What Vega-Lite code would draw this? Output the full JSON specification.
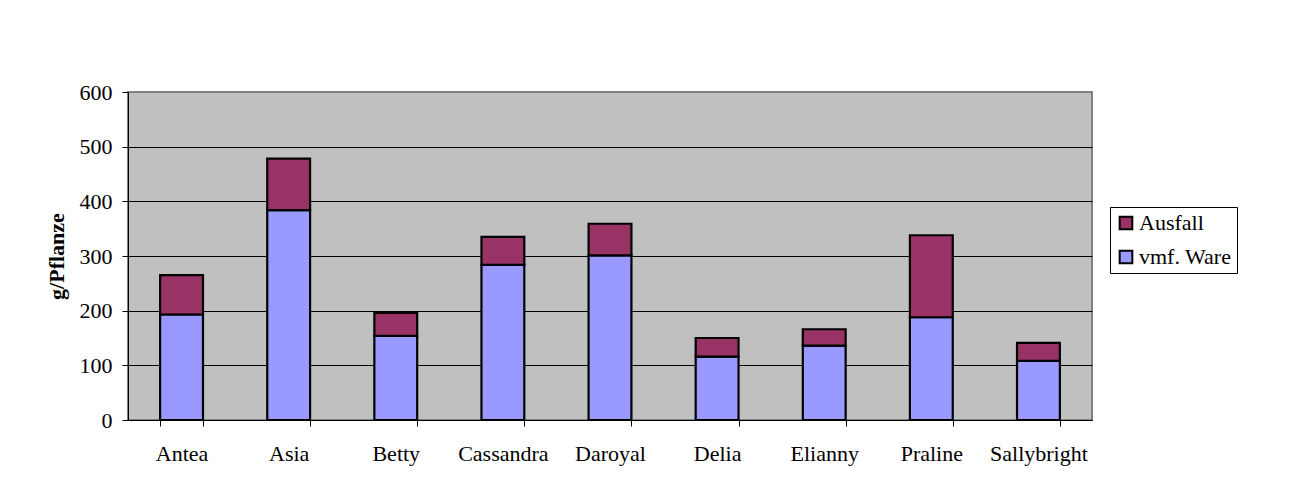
{
  "$schema": "https://vega.github.io/schema/vega-lite/v6.json",
  "width": 964,
  "height": 328,
  "autosize": {"type": "none"},
  "padding": {"left": 128, "top": 92, "right": 198, "bottom": 68},
  "background": "white",
  "data": {
    "values": [
      {"sorte": "Antea", "typ": "vmf. Ware", "stapel": 0, "wert": 193},
      {"sorte": "Antea", "typ": "Ausfall", "stapel": 1, "wert": 72},
      {"sorte": "Asia", "typ": "vmf. Ware", "stapel": 0, "wert": 384},
      {"sorte": "Asia", "typ": "Ausfall", "stapel": 1, "wert": 94},
      {"sorte": "Betty", "typ": "vmf. Ware", "stapel": 0, "wert": 154},
      {"sorte": "Betty", "typ": "Ausfall", "stapel": 1, "wert": 42},
      {"sorte": "Cassandra", "typ": "vmf. Ware", "stapel": 0, "wert": 284},
      {"sorte": "Cassandra", "typ": "Ausfall", "stapel": 1, "wert": 51},
      {"sorte": "Daroyal", "typ": "vmf. Ware", "stapel": 0, "wert": 301},
      {"sorte": "Daroyal", "typ": "Ausfall", "stapel": 1, "wert": 58},
      {"sorte": "Delia", "typ": "vmf. Ware", "stapel": 0, "wert": 116},
      {"sorte": "Delia", "typ": "Ausfall", "stapel": 1, "wert": 34},
      {"sorte": "Elianny", "typ": "vmf. Ware", "stapel": 0, "wert": 136},
      {"sorte": "Elianny", "typ": "Ausfall", "stapel": 1, "wert": 30},
      {"sorte": "Praline", "typ": "vmf. Ware", "stapel": 0, "wert": 188},
      {"sorte": "Praline", "typ": "Ausfall", "stapel": 1, "wert": 150},
      {"sorte": "Sallybright", "typ": "vmf. Ware", "stapel": 0, "wert": 108},
      {"sorte": "Sallybright", "typ": "Ausfall", "stapel": 1, "wert": 33}
    ]
  },
  "mark": {"type": "bar", "stroke": "black", "strokeWidth": 2.2},
  "encoding": {
    "x": {
      "field": "sorte",
      "type": "nominal",
      "sort": null,
      "scale": {"paddingInner": 0.6, "paddingOuter": 0.3},
      "axis": {
        "title": null,
        "labelAngle": 0,
        "labelFont": "Liberation Serif",
        "labelFontSize": 22,
        "labelColor": "black",
        "labelPadding": 17,
        "tickBand": "extent",
        "tickSize": 6,
        "tickColor": "black",
        "domainColor": "black",
        "grid": false
      }
    },
    "y": {
      "field": "wert",
      "type": "quantitative",
      "stack": "zero",
      "scale": {"domain": [0, 600], "nice": false},
      "axis": {
        "title": "g/Pflanze",
        "titleFont": "Liberation Serif",
        "titleFontSize": 22,
        "titleFontWeight": "bold",
        "titleColor": "black",
        "titlePadding": 11,
        "values": [0, 100, 200, 300, 400, 500, 600],
        "labelFont": "Liberation Serif",
        "labelFontSize": 22,
        "labelColor": "black",
        "labelPadding": 10,
        "tickSize": 6,
        "tickColor": "black",
        "domainColor": "black",
        "grid": true,
        "gridColor": {"condition": {"test": "datum.value === 600", "value": "#808080"}, "value": "black"},
        "gridWidth": 1
      }
    },
    "color": {
      "field": "typ",
      "type": "nominal",
      "scale": {"domain": ["Ausfall", "vmf. Ware"], "range": ["#993366", "#9999FF"]},
      "legend": {
        "title": null,
        "orient": "none",
        "legendX": 982,
        "legendY": 115,
        "strokeColor": "black",
        "fillColor": "white",
        "padding": 5,
        "symbolType": "square",
        "symbolSize": 160,
        "symbolStrokeColor": "black",
        "symbolStrokeWidth": 2,
        "labelFont": "Liberation Serif",
        "labelFontSize": 22,
        "labelColor": "black",
        "rowPadding": 12,
        "labelOffset": 2
      }
    },
    "order": {"field": "stapel", "type": "quantitative"}
  },
  "config": {
    "view": {"fill": "#C0C0C0", "stroke": "#808080", "strokeWidth": 2}
  }
}
